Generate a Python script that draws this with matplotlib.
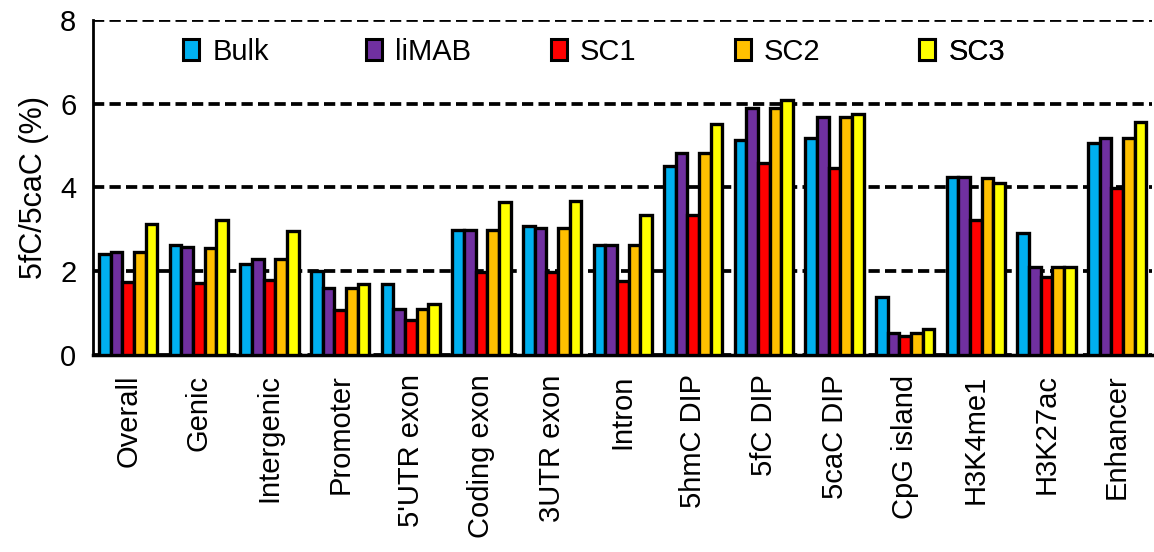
import numpy as np
import matplotlib.pyplot as plt
from matplotlib.patches import Patch

plt.rcParams['font.family'] = ['Liberation Sans', 'DejaVu Sans']

categories = ['Overall', 'Genic', 'Intergenic', 'Promoter', "5'UTR exon", 'Coding exon',
              '3UTR exon', 'Intron', '5hmC DIP', '5fC DIP', '5caC DIP', 'CpG island',
              'H3K4me1', 'H3K27ac', 'Enhancer']

bulk  = [2.40, 2.63, 2.16, 2.00, 1.69, 2.98, 3.08, 2.63, 4.51, 5.12, 5.18, 1.39, 4.26, 2.92, 5.05]
limab = [2.46, 2.58, 2.29, 1.59, 1.10, 2.98, 3.03, 2.62, 4.82, 5.89, 5.68, 0.52, 4.25, 2.09, 5.17]
sc1   = [1.75, 1.71, 1.79, 1.07, 0.83, 1.98, 1.98, 1.76, 3.33, 4.58, 4.47, 0.46, 3.21, 1.86, 3.98]
sc2   = [2.46, 2.56, 2.29, 1.59, 1.10, 2.98, 3.03, 2.62, 4.82, 5.89, 5.68, 0.52, 4.23, 2.09, 5.17]
sc3   = [3.12, 3.21, 2.96, 1.69, 1.21, 3.65, 3.67, 3.33, 5.51, 6.09, 5.75, 0.62, 4.10, 2.09, 5.55]

series = [('Bulk', bulk, '#00B0F0'), ('liMAB', limab, '#7030A0'), ('SC1', sc1, '#FF0000'),
          ('SC2', sc2, '#FFC000'), ('SC3', sc3, '#FFFF00')]

fig = plt.figure(figsize=(11.54, 5.52), dpi=100)
ax = fig.add_axes([0.0806, 0.357, 0.918, 0.607])

x = np.arange(len(categories))
w = 0.165
for i, (name, vals, col) in enumerate(series):
    ax.bar(x + (i - 2) * w, vals, w, color=col, edgecolor='black', linewidth=2.4, zorder=3)

ax.set_xlim(-0.5, len(categories) - 0.5)
ax.set_ylim(0, 8)
ax.set_yticks([0, 2, 4, 6, 8])
ax.yaxis.grid(True, color='black', linewidth=2.7, linestyle=(0, (3.0, 1.4)), zorder=0)
ax.set_axisbelow(True)

ax.set_xticks(x)
ax.set_xticklabels(categories, rotation=90, fontsize=21)
ax.tick_params(axis='x', length=0, pad=14)
ax.tick_params(axis='y', length=0, pad=12, labelsize=21)
ax.set_ylabel('5fC/5caC (%)', fontsize=22, labelpad=8)

for s in ['top', 'right']:
    ax.spines[s].set_visible(False)
ax.spines['left'].set_linewidth(2)
ax.spines['bottom'].set_linewidth(2.5)

# one legend entry per slot so they sit evenly spaced
slots = [0.085, 0.258, 0.432, 0.606, 0.78]
for (name, vals, col), xs in zip(series, slots):
    h = Patch(facecolor=col, edgecolor='black', linewidth=2.2)
    leg = ax.legend([h], [name], loc='center left', bbox_to_anchor=(xs, 0.905), frameon=False,
                    fontsize=21, handlelength=0.55, handleheight=0.75, handletextpad=0.45,
                    borderpad=0, borderaxespad=0)
    ax.add_artist(leg)

fig.savefig('out.png', dpi=100)
